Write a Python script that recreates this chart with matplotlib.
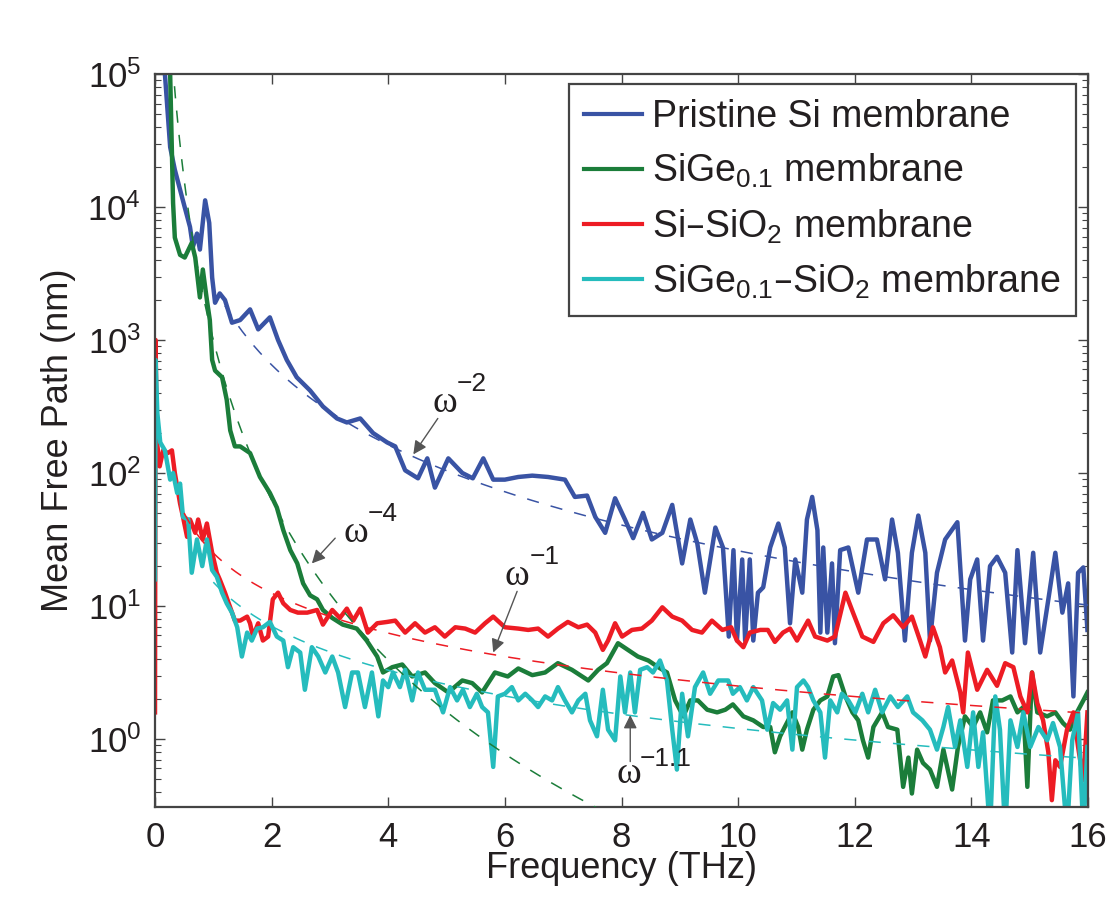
import matplotlib
matplotlib.use("Agg")
import matplotlib.pyplot as plt
import numpy as np
from matplotlib.lines import Line2D
from matplotlib.ticker import LogLocator, NullFormatter

plt.rcParams["font.family"] = ["Liberation Sans", "DejaVu Sans"]
plt.rcParams["mathtext.default"] = "regular"

# Mean free path spectra, values as log10(MFP / nm)
blue_freq = [0.12, 0.17, 0.26, 0.34, 0.46, 0.60, 0.65, 0.72, 0.77, 0.86,
             0.93, 0.98, 1.03, 1.11, 1.20, 1.32, 1.46, 1.63, 1.77, 1.97,
             2.11, 2.26, 2.43, 2.66, 2.88, 3.12, 3.29, 3.52, 3.74, 3.98,
             4.12, 4.29, 4.51, 4.67, 4.80, 5.03, 5.27, 5.45, 5.63, 5.80,
             6.00, 6.23, 6.47, 6.74, 7.03, 7.20, 7.41, 7.55, 7.72, 7.89,
             8.06, 8.20, 8.37, 8.52, 8.70, 8.87, 9.04, 9.18, 9.30, 9.43,
             9.61, 9.74, 9.84, 9.92, 9.98, 10.07, 10.12, 10.20, 10.26, 10.34,
             10.43, 10.55, 10.69, 10.80, 10.89, 10.98, 11.10, 11.18, 11.27, 11.36,
             11.41, 11.46, 11.53, 11.61, 11.66, 11.75, 11.89, 12.06, 12.21, 12.38,
             12.52, 12.64, 12.74, 12.86, 12.98, 13.09, 13.21, 13.29, 13.41, 13.55,
             13.76, 13.89, 13.98, 14.10, 14.20, 14.32, 14.44, 14.58, 14.70, 14.79,
             14.92, 15.06, 15.18, 15.32, 15.44, 15.56, 15.66, 15.75, 15.83, 15.92, 15.99]
blue_log_mfp = [5.5, 5.0, 4.45, 4.28, 4.08, 3.85, 3.70, 3.80, 3.68, 4.05,
                3.88, 3.47, 3.28, 3.35, 3.30, 3.13, 3.15, 3.23, 3.08, 3.17,
                3.00, 2.85, 2.72, 2.62, 2.50, 2.41, 2.38, 2.41, 2.30, 2.23,
                2.20, 2.02, 1.96, 2.11, 1.89, 2.11, 2.00, 1.96, 2.11, 1.95,
                1.95, 1.97, 1.98, 1.97, 1.95, 1.82, 1.83, 1.67, 1.55, 1.81,
                1.65, 1.51, 1.70, 1.50, 1.55, 1.76, 1.32, 1.65, 1.47, 1.10,
                1.59, 1.44, 0.77, 1.42, 0.74, 1.35, 0.74, 1.35, 0.74, 1.10,
                1.14, 1.44, 1.62, 1.44, 0.87, 1.35, 1.10, 1.65, 1.82, 1.57,
                0.80, 1.44, 0.80, 1.32, 0.72, 1.42, 1.44, 1.10, 1.50, 1.50,
                1.20, 1.65, 1.40, 0.74, 1.40, 1.68, 1.40, 0.74, 1.25, 1.50,
                1.63, 0.74, 1.20, 1.35, 0.74, 1.30, 1.37, 1.25, 0.65, 1.42,
                0.72, 1.40, 0.65, 1.05, 1.40, 0.95, 1.17, 0.32, 1.25, 1.29, 0.82]

green_freq = [0.22, 0.26, 0.29, 0.31, 0.34, 0.43, 0.51, 0.63, 0.69, 0.77,
              0.82, 0.89, 0.94, 0.98, 1.03, 1.15, 1.23, 1.29, 1.37, 1.46,
              1.63, 1.80, 1.97, 2.09, 2.20, 2.32, 2.44, 2.54, 2.66, 2.78,
              2.88, 3.04, 3.22, 3.46, 3.63, 3.81, 3.91, 4.07, 4.24, 4.41,
              4.63, 4.80, 5.03, 5.27, 5.44, 5.61, 5.83, 6.05, 6.23, 6.47,
              6.69, 6.91, 7.15, 7.43, 7.60, 7.75, 7.94, 8.11, 8.28, 8.46,
              8.63, 8.78, 8.92, 9.06, 9.18, 9.31, 9.47, 9.64, 9.78, 9.91,
              10.09, 10.26, 10.43, 10.55, 10.63, 10.72, 10.80, 10.93, 11.03, 11.10,
              11.18, 11.29, 11.41, 11.53, 11.63, 11.72, 11.84, 11.96, 12.06, 12.14,
              12.23, 12.32, 12.47, 12.57, 12.73, 12.83, 12.92, 12.98, 13.07, 13.17,
              13.29, 13.41, 13.52, 13.67, 13.77, 13.89, 14.03, 14.15, 14.27, 14.37,
              14.53, 14.67, 14.79, 14.89, 14.96, 15.04, 15.13, 15.30, 15.44, 15.57,
              15.69, 15.81, 15.92, 15.99]
green_log_mfp = [5.3, 5.0, 4.41, 4.03, 3.77, 3.64, 3.62, 3.73, 3.62, 3.32,
                 3.53, 3.30, 3.15, 2.85, 2.77, 2.72, 2.55, 2.32, 2.20, 2.20,
                 2.15, 1.97, 1.85, 1.74, 1.57, 1.42, 1.32, 1.17, 1.08, 1.05,
                 0.97, 0.91, 0.86, 0.83, 0.74, 0.62, 0.50, 0.54, 0.56, 0.47,
                 0.50, 0.42, 0.35, 0.44, 0.42, 0.35, 0.50, 0.47, 0.53, 0.48,
                 0.50, 0.57, 0.52, 0.44, 0.52, 0.57, 0.72, 0.67, 0.62, 0.59,
                 0.54, 0.50, 0.29, 0.17, 0.29, 0.29, 0.22, 0.20, 0.22, 0.26,
                 0.17, 0.14, 0.09, 0.09, -0.10, 0.02, 0.09, 0.20, 0.09, -0.08,
                 0.07, 0.22, 0.29, 0.32, 0.47, 0.48, 0.32, 0.20, 0.14, -0.01,
                 -0.14, 0.09, 0.20, 0.09, 0.07, -0.36, -0.14, -0.41, -0.08, -0.18,
                 -0.23, -0.36, -0.08, -0.38, -0.06, 0.17, 0.09, 0.20, 0.05, 0.29,
                 0.29, 0.32, 0.20, 0.24, -0.36, 0.50, 0.20, 0.17, 0.20, 0.12,
                 0.07, 0.20, 0.29, 0.35]

red_freq = [0.00, 0.01, 0.03, 0.08, 0.14, 0.22, 0.29, 0.34, 0.43, 0.48,
            0.55, 0.60, 0.69, 0.74, 0.82, 0.89, 0.98, 1.06, 1.11, 1.20,
            1.29, 1.37, 1.46, 1.58, 1.63, 1.68, 1.77, 1.85, 1.94, 2.02,
            2.11, 2.20, 2.32, 2.45, 2.61, 2.78, 2.88, 3.04, 3.17, 3.29,
            3.40, 3.52, 3.65, 3.81, 3.98, 4.12, 4.29, 4.46, 4.63, 4.80,
            4.97, 5.15, 5.32, 5.49, 5.66, 5.80, 6.00, 6.23, 6.40, 6.57,
            6.74, 6.91, 7.08, 7.26, 7.41, 7.55, 7.68, 7.77, 7.89, 8.01,
            8.18, 8.35, 8.52, 8.70, 8.87, 9.04, 9.21, 9.38, 9.55, 9.73,
            9.88, 9.98, 10.09, 10.20, 10.38, 10.51, 10.63, 10.77, 10.89, 11.01,
            11.20, 11.32, 11.53, 11.66, 11.84, 11.97, 12.13, 12.32, 12.49, 12.66,
            12.83, 12.98, 13.12, 13.21, 13.34, 13.46, 13.55, 13.67, 13.81, 13.86,
            13.94, 14.10, 14.27, 14.44, 14.58, 14.72, 14.84, 14.96, 15.04, 15.13,
            15.23, 15.32, 15.38, 15.44, 15.52, 15.64, 15.75, 15.83, 15.92, 15.99]
red_log_mfp = [0.20, 3.00, 2.25, 2.05, 2.17, 2.15, 2.17, 2.00, 1.77, 1.67,
               1.52, 1.65, 1.55, 1.65, 1.50, 1.62, 1.40, 1.25, 1.20, 1.10,
               0.99, 0.89, 0.89, 0.92, 0.87, 0.77, 0.87, 0.74, 0.77, 1.05,
               1.10, 1.02, 0.97, 0.95, 0.95, 0.97, 0.86, 0.97, 0.91, 0.98,
               0.89, 0.98, 0.80, 0.87, 0.88, 0.89, 0.80, 0.87, 0.80, 0.84,
               0.77, 0.84, 0.83, 0.80, 0.87, 0.92, 0.84, 0.83, 0.82, 0.83,
               0.77, 0.83, 0.88, 0.84, 0.86, 0.80, 0.67, 0.74, 0.87, 0.77,
               0.82, 0.83, 0.89, 0.99, 0.92, 0.89, 0.82, 0.80, 0.89, 0.82,
               0.84, 0.74, 0.69, 0.80, 0.82, 0.82, 0.73, 0.80, 0.83, 0.74,
               0.89, 0.77, 0.74, 0.77, 1.10, 0.95, 0.77, 0.73, 0.87, 0.93,
               0.84, 0.92, 0.74, 0.62, 0.84, 0.69, 0.50, 0.59, 0.35, 0.20,
               0.65, 0.37, 0.52, 0.40, 0.57, 0.54, 0.32, 0.20, 0.50, 0.27,
               0.14, -0.10, -0.46, -0.16, -0.21, 0.07, 0.20, -0.06, -0.31, 0.20]

cyan_freq = [0.00, 0.01, 0.04, 0.09, 0.17, 0.26, 0.31, 0.38, 0.43, 0.48,
             0.57, 0.63, 0.72, 0.81, 0.89, 0.98, 1.06, 1.15, 1.23, 1.32,
             1.41, 1.49, 1.58, 1.66, 1.75, 1.85, 1.97, 2.09, 2.20, 2.28,
             2.37, 2.49, 2.57, 2.69, 2.80, 2.92, 3.04, 3.14, 3.26, 3.38,
             3.48, 3.60, 3.72, 3.83, 3.91, 4.00, 4.08, 4.20, 4.29, 4.41,
             4.51, 4.63, 4.80, 4.94, 5.06, 5.18, 5.28, 5.40, 5.52, 5.61,
             5.71, 5.80, 5.88, 6.00, 6.12, 6.23, 6.35, 6.47, 6.57, 6.69,
             6.81, 6.91, 7.03, 7.15, 7.26, 7.38, 7.46, 7.58, 7.68, 7.77,
             7.89, 7.98, 8.06, 8.15, 8.23, 8.32, 8.44, 8.54, 8.66, 8.78,
             8.87, 8.95, 9.04, 9.14, 9.26, 9.40, 9.52, 9.66, 9.83, 9.91,
             10.03, 10.15, 10.26, 10.41, 10.50, 10.60, 10.72, 10.84, 10.93, 11.01,
             11.12, 11.20, 11.29, 11.41, 11.49, 11.58, 11.70, 11.78, 11.89, 12.01,
             12.13, 12.23, 12.35, 12.47, 12.61, 12.74, 12.90, 13.00, 13.16, 13.29,
             13.41, 13.52, 13.60, 13.72, 13.81, 13.93, 14.03, 14.12, 14.20, 14.32,
             14.41, 14.49, 14.58, 14.67, 14.79, 14.89, 15.01, 15.15, 15.30, 15.40,
             15.52, 15.64, 15.73, 15.83, 15.92, 15.99]
cyan_log_mfp = [1.20, 2.85, 2.45, 2.23, 2.17, 1.95, 2.00, 1.85, 1.92, 1.67,
                1.65, 1.25, 1.50, 1.30, 1.50, 1.27, 1.22, 1.10, 1.02, 0.95,
                0.84, 0.62, 0.80, 0.74, 0.83, 0.84, 0.88, 0.77, 0.74, 0.54,
                0.69, 0.65, 0.37, 0.69, 0.62, 0.50, 0.62, 0.50, 0.24, 0.50,
                0.50, 0.24, 0.50, 0.17, 0.44, 0.39, 0.50, 0.39, 0.52, 0.29,
                0.50, 0.37, 0.37, 0.20, 0.39, 0.29, 0.37, 0.24, 0.34, 0.24,
                0.20, -0.21, 0.32, 0.34, 0.39, 0.29, 0.34, 0.29, 0.24, 0.32,
                0.29, 0.39, 0.29, 0.20, 0.29, 0.34, 0.14, 0.02, 0.37, 0.07,
                -0.01, 0.47, 0.20, 0.50, 0.20, 0.52, 0.54, 0.50, 0.59, 0.44,
                0.07, -0.23, 0.34, 0.02, 0.39, 0.50, 0.34, 0.44, 0.44, 0.34,
                0.39, 0.29, 0.39, 0.29, 0.07, 0.27, 0.22, 0.29, -0.08, 0.39,
                0.44, 0.39, 0.29, 0.20, -0.14, 0.29, 0.20, 0.34, 0.29, 0.20,
                0.34, 0.20, 0.37, 0.20, 0.32, 0.24, 0.32, 0.20, 0.14, 0.07,
                -0.08, 0.09, 0.24, -0.06, 0.14, -0.21, 0.20, -0.21, 0.05, -0.70,
                0.32, 0.07, -0.70, 0.14, -0.06, 0.20, -0.06, 0.09, -0.01, 0.12,
                -0.06, -0.70, -0.01, 0.20, -0.70, -0.06]

labels = ["Pristine Si membrane",
          "SiGe$_{0.1}$ membrane",
          "Si\u2013SiO$_2$ membrane",
          "SiGe$_{0.1}$\u2013SiO$_2$ membrane"]
colors = ["#3953a4", "#1b7d3a", "#ed1c24", "#25bcbd"]

# power-law guides  A * f^n  and the frequency span they are drawn over
fit_amplitude = [2600.0, 1000.0, 25.0, 15.1]
fit_exponent = [-2.0, -4.0, -1.0, -1.1]
fit_span = [(1.2, 16.0), (0.3, 7.7), (0.5, 16.0), (1.0, 16.0)]

# annotation labels: omega position, exponent position, arrow start, arrow tip
exp_text = ["\u22122", "\u22124", "\u22121", "\u22121.1"]
omega_pos = [(4.97, 10**2.53), (3.45, 10**1.55), (6.21, 10**1.23), (8.13, 10**-0.26)]
exp_pos = [(5.18, 10**2.67), (3.64, 10**1.69), (6.43, 10**1.37), (8.32, 10**-0.15)]
arrow_start = [(4.85, 10**2.41), (3.09, 10**1.51), (6.21, 10**1.11), (8.15, 10**-0.17)]
arrow_tip = [(4.43, 10**2.14), (2.69, 10**1.32), (5.80, 10**0.65), (8.15, 10**0.18)]

series = [(blue_freq, blue_log_mfp), (green_freq, green_log_mfp),
          (red_freq, red_log_mfp), (cyan_freq, cyan_log_mfp)]

fig = plt.figure(figsize=(11.15, 9.0), dpi=100)
ax = fig.add_axes([155 / 1115, 1 - 807 / 900, 933 / 1115, 733 / 900])

for (f, lg), c, lab in zip(series, colors, labels):
    ax.plot(f, 10 ** np.asarray(lg), color=c, lw=3.2, label=lab, zorder=2,
            solid_joinstyle="round")

for A, n, (f0, f1), c in zip(fit_amplitude, fit_exponent, fit_span, colors):
    ff = np.linspace(f0, f1, 300)
    ax.plot(ff, A * ff ** n, color=c, lw=1.1, dashes=(8, 8), zorder=3)

for et, op, ep, a0, a1 in zip(exp_text, omega_pos, exp_pos, arrow_start, arrow_tip):
    ax.annotate("", xy=a1, xytext=a0,
                arrowprops=dict(arrowstyle="-|>", color="#555555", lw=1.0,
                                mutation_scale=20, shrinkA=0, shrinkB=0,
                                facecolor="#222222"), zorder=5)
    ax.text(op[0], op[1], "\u03c9", fontsize=27, family="Liberation Serif",
            ha="center", va="center", color="#231f20", zorder=6)
    ax.text(ep[0], ep[1], et, fontsize=19, ha="left", va="center",
            color="#231f20", zorder=6)

ax.set_yscale("log")
ax.set_xlim(0, 16)
ax.set_ylim(0.308, 1e5)
ax.set_xticks(np.arange(0, 17, 2))
ax.yaxis.set_major_locator(LogLocator(base=10, numticks=10))
ax.yaxis.set_minor_locator(LogLocator(base=10, subs=np.arange(2, 10), numticks=20))
ax.yaxis.set_minor_formatter(NullFormatter())

ax.tick_params(which="both", direction="in", top=True, right=True,
               colors="#444444", labelcolor="#231f20")
ax.tick_params(which="major", length=7, width=1.0, labelsize=25, pad=10)
ax.tick_params(which="minor", length=4, width=0.8)
for sp in ax.spines.values():
    sp.set_color("#444444")
    sp.set_linewidth(1.6)

ax.set_xlabel("Frequency (THz)", fontsize=26, color="#231f20", labelpad=-2)
ax.set_ylabel("Mean Free Path (nm)", fontsize=26, color="#231f20", labelpad=8)

handles = [Line2D([], [], color=c, lw=3.0) for c in colors]
leg = ax.legend(handles, labels, loc="upper right", bbox_to_anchor=(0.987, 0.986),
                borderaxespad=0, fontsize=27, handlelength=1.55, handletextpad=0.27,
                labelspacing=0.45, fancybox=False, framealpha=1, borderpad=0.4)
leg.get_frame().set_edgecolor("#444444")
leg.get_frame().set_linewidth(1.6)
for t in leg.get_texts():
    t.set_color("#231f20")

fig.savefig("out.png", dpi=100)
